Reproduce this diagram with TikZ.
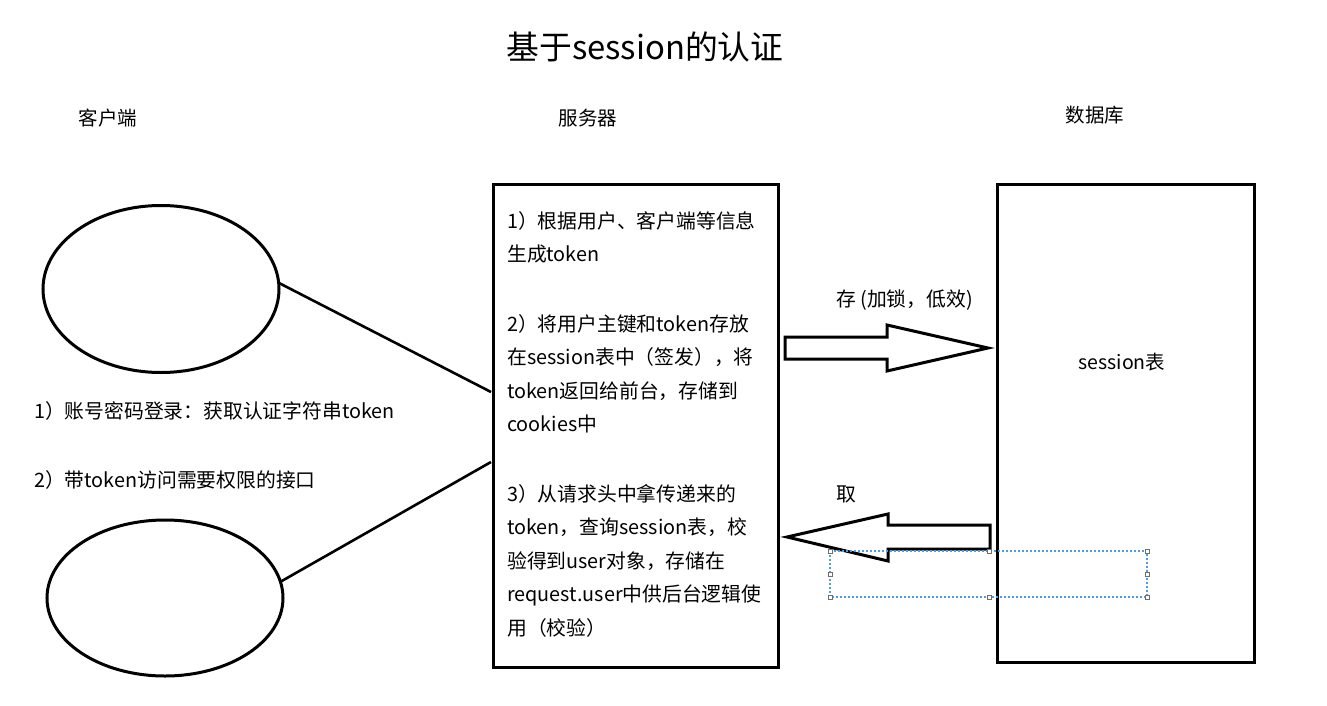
\documentclass[tikz,border=0pt]{standalone}
\usepackage{fontspec}
\setmainfont{Noto Sans CJK SC}
\usetikzlibrary{shapes.geometric}
\definecolor{selblue}{RGB}{80,155,225}
\definecolor{handle}{RGB}{110,110,110}
\tikzset{
  txt/.style={anchor=base west, inner sep=0pt, font=\fontsize{19.8}{24}\selectfont},
  ctxt/.style={anchor=base, inner sep=0pt, font=\fontsize{19.5}{24}\selectfont},
  client/.style={draw, ellipse, line width=3pt, inner sep=0pt, outer sep=0pt},
  panel/.style={draw, rectangle, line width=3pt, inner sep=0pt, outer sep=0pt},
  link/.style={line width=2.6pt},
  blockarrow/.style={draw, line width=3pt, fill=white, line join=miter},
  sel/.style={draw=selblue, line width=1.2pt, dash pattern=on 2pt off 2pt},
  hdl/.style={draw=handle, fill=white, line width=0.8pt, rectangle, minimum size=4pt, inner sep=0pt}
}
\begin{document}
\begin{tikzpicture}[x=1pt, y=-1pt]
\useasboundingbox (0,0) rectangle (1327,706);
\fill[white] (0,0) rectangle (1327,706);

% title
\node[anchor=base, inner sep=0pt, font=\fontsize{32.8}{38}\selectfont] (title) at (645,60) {基于session的认证};

% column headings
\node[ctxt] (hcli) at (108,125) {客户端};
\node[ctxt] (hsrv) at (588,125) {服务器};
\node[ctxt] (hdb) at (1095,123) {数据库};

% clients
\node[client, minimum width=236pt, minimum height=167pt] (e1) at (161,289) {};
\node[client, minimum width=236pt, minimum height=156pt] (e2) at (165,598) {};

% left texts
\node[txt] (l1) at (34,418) {1）账号密码登录：获取认证字符串token};
\node[txt] (l2) at (34,487) {2）带token访问需要权限的接口};

% server box
\node[panel, minimum width=285pt, minimum height=483pt] (srv) at (635.5,425.5) {};
\node[txt] (s1) at (507,228) {1）根据用户、客户端等信息};
\node[txt] (s2) at (507,261) {生成token};
\node[txt] (s3) at (507,331) {2）将用户主键和token存放};
\node[txt] (s4) at (507,364) {在session表中（签发），将};
\node[txt] (s5) at (507,398) {token返回给前台，存储到};
\node[txt] (s6) at (507,431) {cookies中};
\node[txt] (s7) at (507,501) {3）从请求头中拿传递来的};
\node[txt] (s8) at (507,534) {token，查询session表，校};
\node[txt] (s9) at (507,568) {验得到user对象，存储在};
\node[txt] (s10) at (507,601) {request.user中供后台逻辑使};
\node[txt] (s11) at (507,635) {用（校验）};

% database box
\node[panel, minimum width=257pt, minimum height=478pt] (db) at (1125.5,423) {};
\node[ctxt] (tbl) at (1122,369) {session表};

% connectors client -> server
\coordinate (a1) at (491,392);
\coordinate (a2) at (491,462);
\draw[link] (e1.3) -- (a1);
\draw[link] (a2) -- (e2.8);

% store arrow
\node[txt] (store) at (836,306) {存 (加锁，低效)};
\draw[blockarrow] (785,337) -- (887,337) -- (887,325) -- (988,348) -- (887,371) -- (887,359) -- (785,359) -- cycle;

% fetch arrow
\node[txt] (fetch) at (836,501) {取};
\draw[blockarrow] (990,525) -- (888,525) -- (888,514) -- (787,537) -- (888,561) -- (888,549) -- (990,549) -- cycle;

% selection box
\draw[sel] (830,551) rectangle (1147,597);
\foreach \p/\q [count=\i] in {830/551, 989/551, 1147/551, 830/574, 1147/574, 830/597, 989/597, 1147/597}
  \node[hdl] (h\i) at (\p,\q) {};
\end{tikzpicture}
\end{document}
